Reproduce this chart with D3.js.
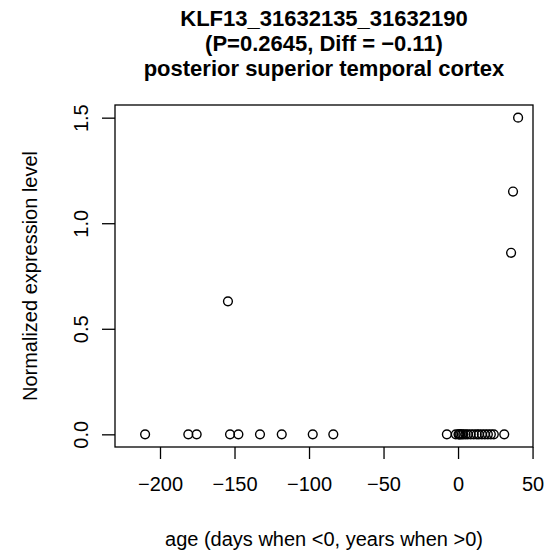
<!DOCTYPE html>
<html>
<head>
<meta charset="utf-8">
<script src="https://cdn.jsdelivr.net/npm/d3@7"></script>
<style>
  html, body { margin: 0; padding: 0; background: #fff; }
  text { font-family: "Liberation Sans", Arial, Helvetica, sans-serif; fill: #000; }
</style>
</head>
<body>
<svg id="chart" width="547" height="555"></svg>
<script>
const titleLines = ["KLF13_31632135_31632190", "(P=0.2645, Diff = \u22120.11)", "posterior superior temporal cortex"];
const xLabel = "age (days when <0, years when >0)";
const yLabel = "Normalized expression level";
const xTicks = [-200, -150, -100, -50, 0, 50];
const yTicks = [0.0, 0.5, 1.0, 1.5];

const ages = [-210, -181, -175.4, -154.4, -153, -147.4, -132.9, -118.3, -97.5, -83.7,
              -7.5, -1.5, 0.3, 0.8, 1.5, 2.5, 3.5, 5, 6.5, 8.5, 10.5, 12.5, 14, 16, 18, 20, 22, 24, 31,
              35.6, 36.9, 40.3];
const values = [0, 0, 0, 0.63, 0, 0, 0, 0, 0, 0,
                0, 0, 0, 0, 0, 0, 0, 0, 0, 0, 0, 0, 0, 0, 0, 0, 0, 0, 0,
                0.86, 1.15, 1.5];

const AXIS_FONT = 20;
const TITLE_FONT = 22;

const box = { left: 115, right: 533, top: 105, bottom: 447 };
const x = d3.scaleLinear().domain([-230.2, 50.3]).range([box.left, box.right]);
const y = d3.scaleLinear().domain([-0.06, 1.56]).range([box.bottom, box.top]);

const svg = d3.select("#chart");
const fmt = v => (v < 0 ? "\u2212" + Math.abs(v) : String(v));

// X axis
const xAxis = svg.append("g").attr("transform", `translate(0,${box.bottom})`)
  .call(d3.axisBottom(x).tickValues(xTicks).tickSize(12).tickPadding(18).tickFormat(fmt));
xAxis.select(".domain").remove();
xAxis.selectAll("line").attr("stroke", "#000").attr("stroke-width", 1.3);
xAxis.selectAll("text").attr("font-size", AXIS_FONT).attr("font-family", "Liberation Sans, Arial, sans-serif");

// Y axis
const yAxis = svg.append("g").attr("transform", `translate(${box.left},0)`)
  .call(d3.axisLeft(y).tickValues(yTicks).tickSize(13).tickFormat(d3.format(".1f")));
yAxis.select(".domain").remove();
yAxis.selectAll("line").attr("stroke", "#000").attr("stroke-width", 1.3);
yAxis.selectAll("text")
  .attr("font-size", AXIS_FONT).attr("font-family", "Liberation Sans, Arial, sans-serif")
  .attr("x", null).attr("dy", null)
  .attr("text-anchor", "middle")
  .attr("transform", "translate(-27,0) rotate(-90)")
  .attr("y", 0);

// Box
svg.append("rect")
  .attr("x", box.left).attr("y", box.top)
  .attr("width", box.right - box.left).attr("height", box.bottom - box.top)
  .attr("fill", "none").attr("stroke", "#000").attr("stroke-width", 1.3);

// Points
svg.append("g").selectAll("circle")
  .data(ages.map((a, i) => [a, values[i]]))
  .join("circle")
  .attr("cx", d => x(d[0])).attr("cy", d => y(d[1]))
  .attr("r", 4.4)
  .attr("fill", "none").attr("stroke", "#000").attr("stroke-width", 1.4);

// Title
const cx = (box.left + box.right) / 2;
svg.append("g").selectAll("text")
  .data(titleLines)
  .join("text")
  .attr("x", cx).attr("y", (d, i) => 26 + i * 25)
  .attr("text-anchor", "middle")
  .attr("font-weight", "bold").attr("font-size", TITLE_FONT)
  .text(d => d);

// Axis labels
svg.append("text")
  .attr("x", cx).attr("y", 546)
  .attr("text-anchor", "middle").attr("font-size", AXIS_FONT)
  .text(xLabel);

svg.append("text")
  .attr("transform", `translate(37,${(box.top + box.bottom) / 2}) rotate(-90)`)
  .attr("text-anchor", "middle").attr("font-size", AXIS_FONT)
  .text(yLabel);
</script>
</body>
</html>
